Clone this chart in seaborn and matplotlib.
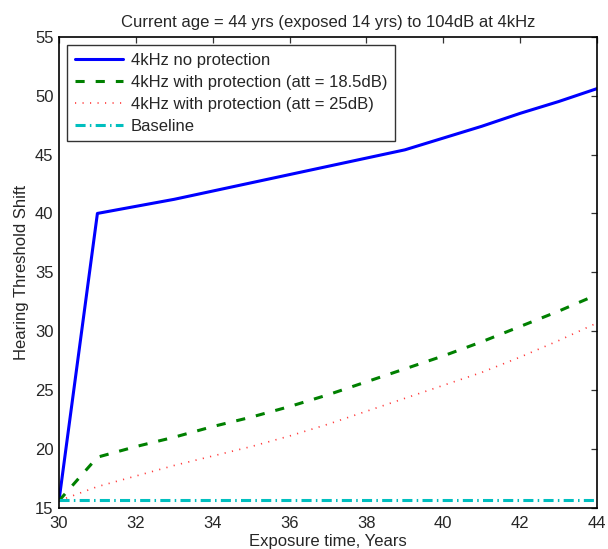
import numpy as np
import pandas as pd
import matplotlib
matplotlib.use("Agg")
import matplotlib.pyplot as plt
import seaborn as sns

years = [30, 31, 32, 33, 34, 35, 36, 37, 38, 39, 40, 41, 42, 43, 44]
no_prot = [15.6, 40.0, 40.6, 41.2, 41.9, 42.6, 43.3, 44.0, 44.7, 45.4, 46.4, 47.4, 48.5, 49.5, 50.6]
prot_185 = [15.6, 19.3, 20.2, 21.0, 21.9, 22.7, 23.6, 24.6, 25.7, 26.8, 27.9, 29.1, 30.4, 31.7, 33.1]
prot_25 = [15.6, 16.8, 17.7, 18.6, 19.4, 20.2, 21.1, 22.1, 23.2, 24.3, 25.4, 26.5, 27.8, 29.2, 30.7]
baseline = [15.7] * len(years)

labels = ["4kHz no protection", "4kHz with protection (att = 18.5dB)",
          "4kHz with protection (att = 25dB)", "Baseline"]
series = [no_prot, prot_185, prot_25, baseline]

sns.set_style("white")
plt.rcParams['font.family'] = ['Liberation Sans', 'DejaVu Sans']

fig = plt.figure(figsize=(6.08, 5.49), dpi=100)
ax = fig.add_axes([0.097, 0.075, 0.885, 0.858])

colors = ["#0000ff", "#008000", "#ff3b3b", "#00bfbf"]
styles = ["-", (0, (3.0, 3.6)), (0, (0.7, 3.8)), (0, (3.3, 1.4, 0.5, 1.4))]
widths = [2.2, 2.2, 1.2, 2.2]

for lab, vals, c, ls, lw in zip(labels, series, colors, styles, widths):
    df = pd.DataFrame({"year": years, "shift": vals})
    sns.lineplot(data=df, x="year", y="shift", ax=ax, color=c, linestyle=ls,
                 linewidth=lw, label=lab)

ax.set_xlim(30, 44)
ax.set_ylim(15, 55)
ax.set_xticks(np.arange(30, 45, 2))
ax.set_yticks(np.arange(15, 56, 5))
ax.tick_params(direction="in", top=True, right=True, length=4, width=0.9,
               labelsize=12, color="#333333")
ax.tick_params(axis="x", pad=6)
ax.tick_params(axis="y", pad=4)
for sp in ax.spines.values():
    sp.set_visible(True)
    sp.set_color("black")
    sp.set_linewidth(1.2)

ax.set_xlabel("Exposure time, Years", fontsize=12, labelpad=2)
ax.set_ylabel("Hearing Threshold Shift", fontsize=12, labelpad=4)
ax.set_title("Current age = 44 yrs (exposed 14 yrs) to 104dB at 4kHz", fontsize=12, pad=7)

leg = ax.legend(loc="upper left", fontsize=12, handlelength=2.9, frameon=True,
                fancybox=False, borderaxespad=0.5, labelspacing=0.42,
                borderpad=0.45, handletextpad=0.45)
leg.get_frame().set_edgecolor("black")
leg.get_frame().set_linewidth(1.0)

fig.savefig("out.png", dpi=100)
